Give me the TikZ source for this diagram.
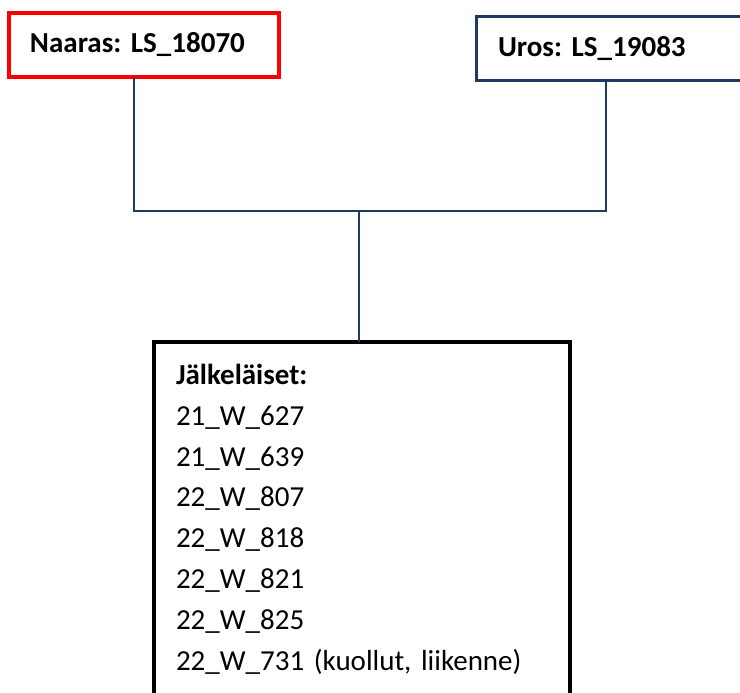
\documentclass[tikz,border=0pt]{standalone}
\usepackage{fontspec}
\setmainfont{Carlito}
\usepackage{xcolor}
\usepackage{tikz}
\usetikzlibrary{positioning}
\frenchspacing

\definecolor{tummansininen}{HTML}{203864}
\definecolor{punainen}{HTML}{FF0000}

\begin{document}
\begin{tikzpicture}[x=1pt,y=-1pt,
    laatikko/.style={draw, rectangle, outer sep=0pt, anchor=north west, align=left,
      font=\fontsize{29pt}{41pt}\selectfont},
    viiva/.style={draw=tummansininen, line width=1.4pt}]
                \useasboundingbox (0,0) rectangle (740,693);
                % Les parents
                \node[laatikko, draw=punainen, line width=3.5pt, minimum width=270pt, minimum height=64pt,
                  inner xsep=21pt, text width=228pt] (naaras) at (9,13) {\textbf{Naaras: LS\_18070}};
                \node[laatikko, draw=tummansininen, line width=3pt, minimum width=300pt, minimum height=64pt,
                  inner xsep=22pt, text width=256pt] (uros) at (476,17) {\textbf{Uros: LS\_19083}};

                % Les descendants
                \node[laatikko, line width=4.5pt, inner xsep=22pt, inner ysep=0pt, text width=372pt,
                  text height=42pt, text depth=336pt] (poikaset) at (154,342)
                  {\textbf{Jälkeläiset:}\\21\_W\_627\\21\_W\_639\\22\_W\_807\\22\_W\_818\\22\_W\_821\\22\_W\_825\\22\_W\_731 (kuollut, liikenne)};

                % Points de jonction
                \coordinate (naarasjalka) at (134,211);
                \coordinate (urosjalka) at (606,211);
                \coordinate (liitos) at (359,211);

                % Les liens
                \draw[viiva] (naaras.south -| naarasjalka) -- (naarasjalka) -- (urosjalka) -- (uros.south -| urosjalka);
                \draw[viiva] (liitos) -- (poikaset.north -| liitos);
              \end{tikzpicture}
\end{document}
